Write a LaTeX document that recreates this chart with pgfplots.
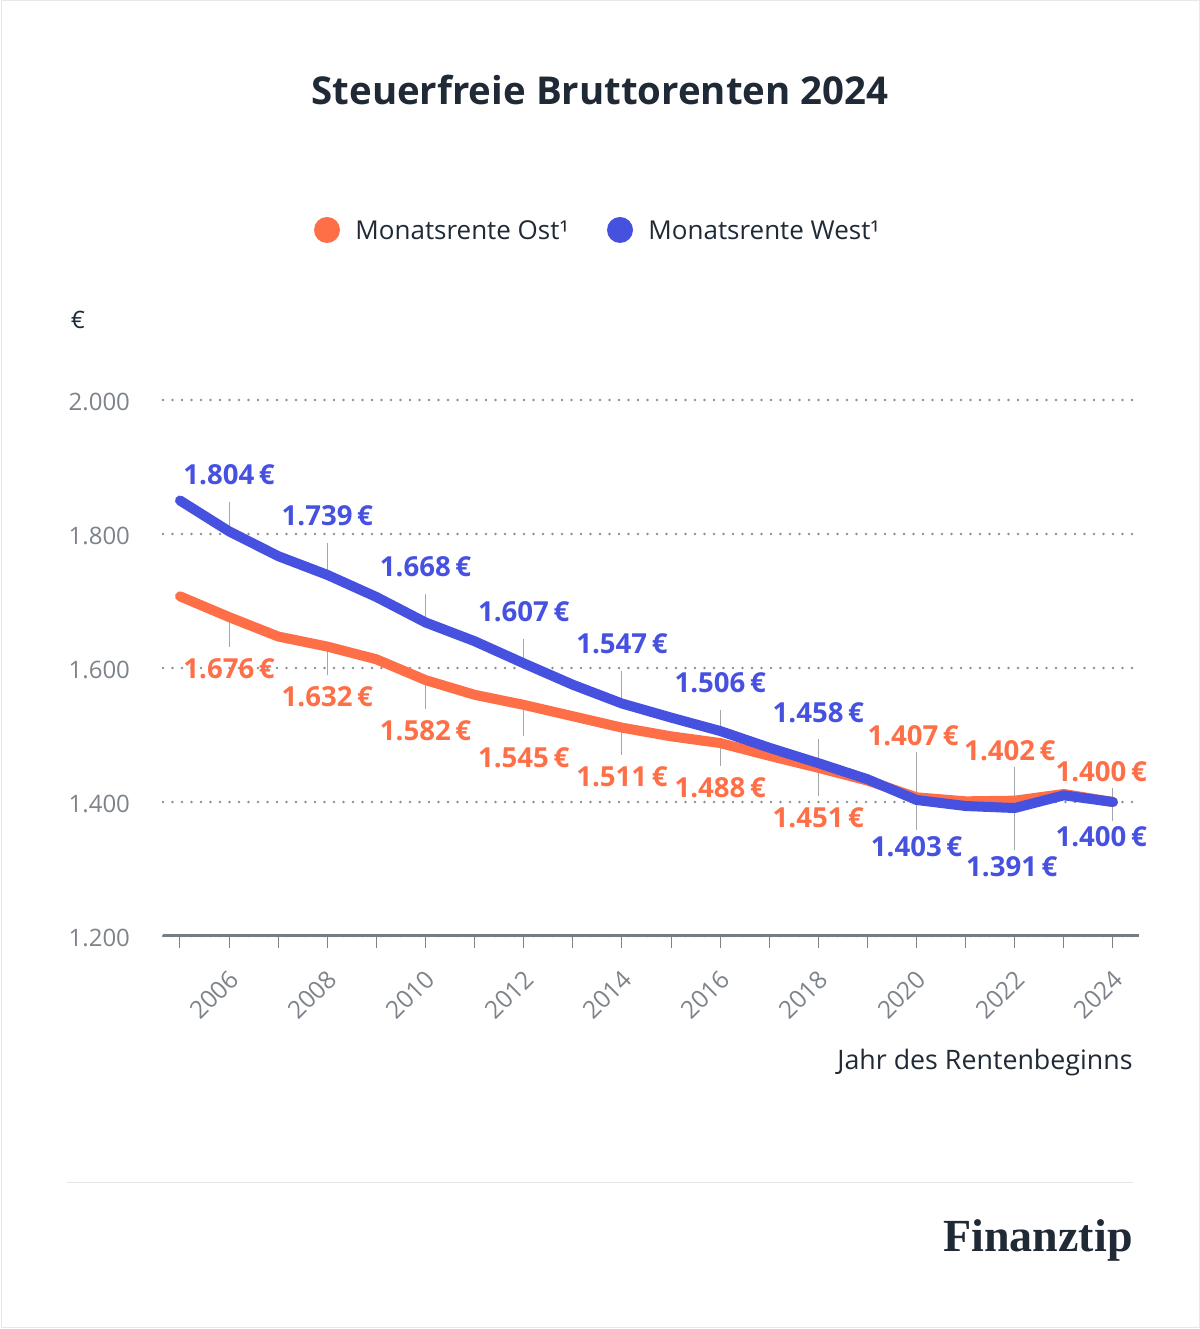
\documentclass[border=0pt]{standalone}
\usepackage{pgfplots}
\usepackage{pgfplotstable}
\pgfplotsset{compat=1.18}
\usepackage{fontspec}
\setmainfont{Open Sans}
\newfontfamily\logofont{Liberation Serif}
\definecolor{ost}{HTML}{FF6F47}
\definecolor{west}{HTML}{4751E0}
\definecolor{dark}{HTML}{1F2A36}
\definecolor{tickgray}{HTML}{7D838A}
\definecolor{gridgray}{HTML}{8A8F95}
\definecolor{axisgray}{HTML}{767C83}
\definecolor{conn}{HTML}{A3A7AC}
\definecolor{sepgray}{HTML}{E6E8EB}

\pgfplotstableread{
year ost west
2005 1707 1850
2006 1676 1804
2007 1647 1767
2008 1632 1739
2009 1613 1706
2010 1582 1668
2011 1560 1640
2012 1545 1607
2013 1528 1575
2014 1511 1547
2015 1498 1526
2016 1488 1506
2017 1469 1481
2018 1451 1458
2019 1432 1434
2020 1407 1403
2021 1401 1394
2022 1402 1391
2023 1412 1410
2024 1400 1400
}\datatable

\newcommand{\lab}{\bfseries\fontsize{13.8}{15}\selectfont}

\begin{document}
\begin{tikzpicture}
\path[use as bounding box] (0,0) rectangle (600pt,664.5pt);
\begin{scope}[x=0.5pt,y=-0.5pt,yshift=664.5pt]
  \draw[color=sepgray, line width=0.5pt] (1,1) rectangle (1199,1328);
  \node[font=\bfseries\fontsize{19.2}{22}\selectfont, text=dark] at (600,90) {Steuerfreie Bruttorenten 2024};
  \fill[ost] (327,230) circle (6.5pt);
  \node[anchor=west, inner sep=0pt, font=\fontsize{13}{15}\selectfont, text=dark] at (355,230) {Monatsrente Ost¹};
  \fill[west] (620,230) circle (6.5pt);
  \node[anchor=west, inner sep=0pt, font=\fontsize{13}{15}\selectfont, text=dark] at (648,230) {Monatsrente West¹};
  \node[font=\fontsize{12}{14}\selectfont, text=dark] at (78,320) {€};
  \node[anchor=east, inner sep=0pt, font=\fontsize{13.4}{15}\selectfont, text=dark] at (1133,1063) {Jahr des Rentenbeginns};
  \draw[color=sepgray, line width=0.5pt] (67,1183) -- (1133,1183);
  \node[anchor=east, inner sep=0pt, font=\logofont\bfseries\fontsize{23}{26}\selectfont, text=dark] at (1133,1240) {Finanztip};
\end{scope}

\begin{axis}[
  at={(81.5pt,196.5pt)}, anchor=south west,
  scale only axis, width=488pt, height=268pt,
  xmin=2004.654, xmax=2024.53, ymin=1200, ymax=2000,
  clip=false,
  separate axis lines,
  axis x line*=bottom, axis y line*=left,
  x axis line style={-, line width=1.5pt, color=axisgray},
  y axis line style={draw=none},
  ytick={1200,1400,...,2000},
  ytick style={draw=none},
  xtick={2006,2008,...,2024},
  xticklabels={2006,2008,2010,2012,2014,2016,2018,2020,2022,2024},
  minor xtick={2005,2007,...,2023},
  tick align=outside,
  major tick length=6pt, minor tick length=6pt,
  xtick style={color=tickgray, line width=0.5pt},
  minor tick style={color=tickgray, line width=0.5pt},
  ymajorgrids,
  grid style={color=gridgray, line width=1.3pt, line cap=round, dash pattern=on 0pt off 4.75pt},
  /pgf/number format/1000 sep={.},
  /pgf/number format/assume math mode=true,
  yticklabel style={font=\fontsize{12}{14}\selectfont, text=tickgray, xshift=-7pt, yshift=-1pt},
  xticklabel style={font=\fontsize{12.3}{14}\selectfont, text=tickgray, rotate=45, anchor=east, xshift=-4.2pt, yshift=-11.3pt},
]
% connectors
\draw[conn, line width=0.5pt] (axis cs:2006,1804) -- (axis cs:2006,1848);
\draw[conn, line width=0.5pt] (axis cs:2008,1739) -- (axis cs:2008,1787);
\draw[conn, line width=0.5pt] (axis cs:2010,1668) -- (axis cs:2010,1711);
\draw[conn, line width=0.5pt] (axis cs:2012,1607) -- (axis cs:2012,1644);
\draw[conn, line width=0.5pt] (axis cs:2014,1547) -- (axis cs:2014,1596);
\draw[conn, line width=0.5pt] (axis cs:2016,1506) -- (axis cs:2016,1538);
\draw[conn, line width=0.5pt] (axis cs:2018,1458) -- (axis cs:2018,1494);
\draw[conn, line width=0.5pt] (axis cs:2006,1676) -- (axis cs:2006,1632);
\draw[conn, line width=0.5pt] (axis cs:2008,1632) -- (axis cs:2008,1590);
\draw[conn, line width=0.5pt] (axis cs:2010,1582) -- (axis cs:2010,1539);
\draw[conn, line width=0.5pt] (axis cs:2012,1545) -- (axis cs:2012,1499);
\draw[conn, line width=0.5pt] (axis cs:2014,1511) -- (axis cs:2014,1470);
\draw[conn, line width=0.5pt] (axis cs:2016,1488) -- (axis cs:2016,1454);
\draw[conn, line width=0.5pt] (axis cs:2018,1451) -- (axis cs:2018,1409);
\draw[conn, line width=0.5pt] (axis cs:2020,1475) -- (axis cs:2020,1358);
\draw[conn, line width=0.5pt] (axis cs:2022,1452) -- (axis cs:2022,1328);
\draw[conn, line width=0.5pt] (axis cs:2024,1421) -- (axis cs:2024,1372);

\addplot[ost, line width=5pt, line join=round, line cap=round] table[x=year, y=ost] {\datatable};
\addplot[west, line width=5pt, line join=round, line cap=round] table[x=year, y=west] {\datatable};

% labels west
\node[text=west, font=\lab] at (axis cs:2006,1888) {1.804\,€};
\node[text=west, font=\lab] at (axis cs:2008,1827) {1.739\,€};
\node[text=west, font=\lab] at (axis cs:2010,1751) {1.668\,€};
\node[text=west, font=\lab] at (axis cs:2012,1684) {1.607\,€};
\node[text=west, font=\lab] at (axis cs:2014,1636) {1.547\,€};
\node[text=west, font=\lab] at (axis cs:2016,1578) {1.506\,€};
\node[text=west, font=\lab] at (axis cs:2018,1534) {1.458\,€};
\node[text=west, font=\lab] at (axis cs:2020,1334) {1.403\,€};
\node[text=west, font=\lab] at (axis cs:2021.94,1304) {1.391\,€};
\node[text=west, font=\lab] at (axis cs:2023.76,1348) {1.400\,€};
% labels ost
\node[text=ost, font=\lab] at (axis cs:2006,1599) {1.676\,€};
\node[text=ost, font=\lab] at (axis cs:2008,1557) {1.632\,€};
\node[text=ost, font=\lab] at (axis cs:2010,1506) {1.582\,€};
\node[text=ost, font=\lab] at (axis cs:2012,1466) {1.545\,€};
\node[text=ost, font=\lab] at (axis cs:2014,1437) {1.511\,€};
\node[text=ost, font=\lab] at (axis cs:2016,1421) {1.488\,€};
\node[text=ost, font=\lab] at (axis cs:2018,1376) {1.451\,€};
\node[text=ost, font=\lab] at (axis cs:2019.93,1499) {1.407\,€};
\node[text=ost, font=\lab] at (axis cs:2021.9,1476) {1.402\,€};
\node[text=ost, font=\lab] at (axis cs:2023.76,1445) {1.400\,€};
\end{axis}
\end{tikzpicture}
\end{document}
